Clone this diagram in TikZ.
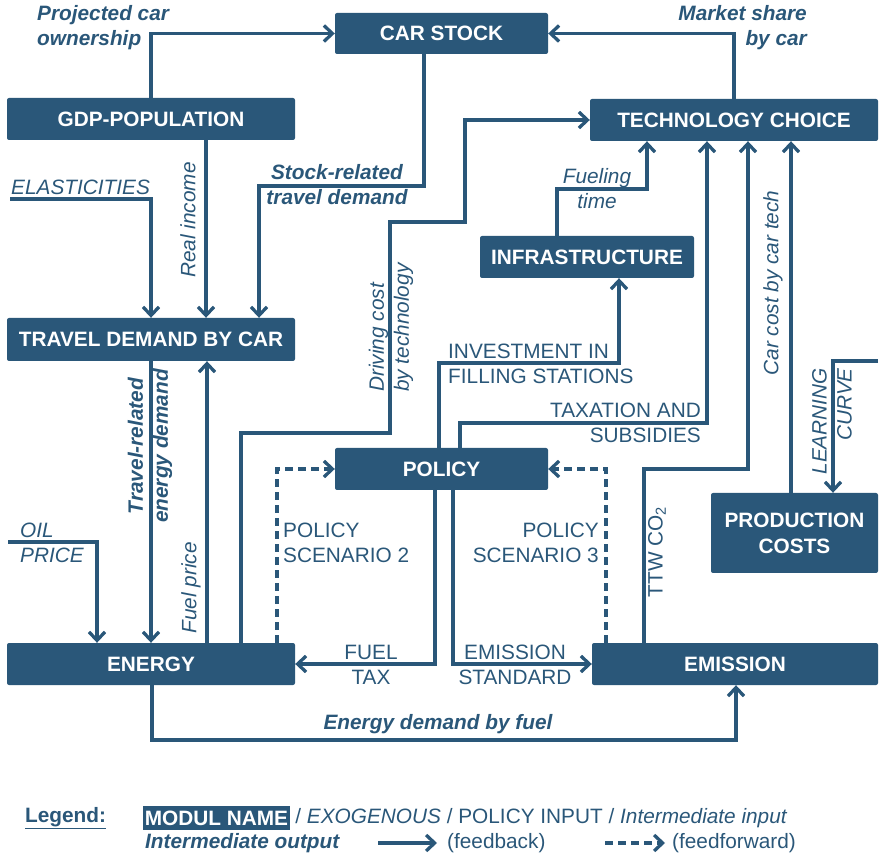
\documentclass[tikz,border=0pt]{standalone}
\usepackage{fontspec}
\setmainfont{Liberation Sans}
\usetikzlibrary{arrows.meta}
\definecolor{navy}{HTML}{2A5779}
\begin{document}
\begin{tikzpicture}[x=1pt,y=-1pt,
  every node/.style={font=\fontsize{20.8}{25}\selectfont, text=navy, inner sep=0pt},
  module/.style={fill=navy, text=white, font=\fontsize{20.8}{26}\selectfont\bfseries,
                 rounded corners=2pt, align=center},
  fb/.style={draw=navy, line width=3.3pt, -{Straight Barb[length=8.5pt,width=16pt]}},
  ff/.style={fb, dash pattern=on 8pt off 5pt},
  ital/.style={font=\fontsize{20.8}{25}\selectfont\itshape},
  boldit/.style={font=\fontsize{20.8}{25}\selectfont\bfseries\itshape},
]
\useasboundingbox (0,0) rectangle (879,858);

% ---------- modules ----------
\node[module, minimum width=213pt, minimum height=41pt] (car)   at (441.5,33.5) {CAR STOCK};
\node[module, minimum width=288pt, minimum height=42pt] (gdp)   at (151,119)    {GDP-POPULATION};
\node[module, minimum width=288pt, minimum height=42pt] (tc)    at (734,120)    {TECHNOLOGY CHOICE};
\node[module, minimum width=214pt, minimum height=42pt] (infra) at (587,257)    {INFRASTRUCTURE};
\node[module, minimum width=288pt, minimum height=43pt] (td)    at (151,339.5)  {TRAVEL DEMAND BY CAR};
\node[module, minimum width=213pt, minimum height=42pt] (pol)   at (441.5,469)  {POLICY};
\node[module, minimum width=167pt, minimum height=80pt] (pc)    at (794.5,533)  {PRODUCTION\\COSTS};
\node[module, minimum width=288pt, minimum height=42pt] (en)    at (151,664)    {ENERGY};
\node[module, minimum width=286pt, minimum height=42pt] (em)    at (735,664)    {EMISSION};

% ---------- exogenous inputs ----------
\coordinate (elas) at (10,199);
\coordinate (oil)  at (8,542);
\coordinate (lc)   at (878,361);

% ---------- connectors ----------
\draw[fb] (gdp.north -| 151,0) |- (car.west);
\draw[fb] (car.south -| 424,0) -- (424,186) -| (td.north -| 259,0);
\draw[fb] (tc.north -| 734,0) |- (car.east);
\draw[fb] (gdp.south -| 206,0) -- (td.north -| 206,0);
\draw[fb] (elas) -| (td.north -| 151,0);
\draw[fb] (td.south -| 151,0) -- (en.north -| 151,0);
\draw[fb] (en.north -| 207,0) -- (td.south -| 207,0);
\draw[fb] (en.north -| 241,0) -- (241,433) -- (390,433) -- (390,222) -- (465,222) |- (tc.west);
\draw[fb] (pol.south -| 435,0) |- (en.east);
\draw[fb] (pol.south -| 453,0) |- (em.west);
\draw[ff] (en.north -| 277,0) |- (pol.west);
\draw[ff] (em.north -| 606,0) |- (pol.east);
\draw[fb] (pol.north -| 439,0) |- (619,363) -- (infra.south -| 619,0);
\draw[fb] (pol.north -| 460,0) |- (707,423) -- (tc.south -| 707,0);
\draw[fb] (infra.north -| 557,0) |- (647,189) -- (tc.south -| 647,0);
\draw[fb] (em.north -| 644,0) |- (748,469) -- (tc.south -| 748,0);
\draw[fb] (pc.north -| 791,0) -- (tc.south -| 791,0);
\draw[fb] (lc) -| (pc.north -| 833,0);
\draw[fb] (oil) -| (en.north -| 97,0);
\draw[fb] (en.south -| 152,0) |- (736,740) -- (em.south -| 736,0);

% ---------- labels ----------
\node[boldit, align=left, anchor=west] (l1) at (37,28) {Projected car\\ownership};
\node[boldit, align=center] (l2) at (337,185) {Stock-related\\travel demand};
\node[boldit, align=right, anchor=east] (l3) at (807,28) {Market share\\by car};
\node[ital, rotate=90] (l4) at (188,220) {Real income};
\node[ital, anchor=west] (l5) at (11,187) {ELASTICITIES};
\node[boldit, rotate=90, align=center] (l6) at (150,446) {Travel-related\\energy demand};
\node[ital, rotate=90] (l7) at (191,588) {Fuel price};
\node[ital, rotate=90, align=left, anchor=west] (l8) at (391,392) {Driving cost\\by technology};
\node[align=center] (l9) at (371,665) {FUEL\\TAX};
\node[align=center] (l10) at (515,665) {EMISSION\\STANDARD};
\node[align=left, anchor=west] (l11) at (283,543) {POLICY\\SCENARIO 2};
\node[align=right, anchor=east] (l12) at (599,543) {POLICY\\SCENARIO 3};
\node[align=left, anchor=west] (l13) at (448,364) {INVESTMENT IN\\FILLING STATIONS};
\node[align=right, anchor=east] (l14) at (701,423) {TAXATION AND\\SUBSIDIES};
\node[ital, align=center] (l15) at (597,189) {Fueling\\time};
\node[rotate=90] (l16) at (657,552) {TTW CO\textsubscript{2}};
\node[ital, rotate=90] (l17) at (773,283) {Car cost by car tech};
\node[ital, rotate=90, align=right, anchor=east] (l18) at (832,368) {LEARNING\\CURVE};
\node[ital, align=left, anchor=west] (l19) at (20,543) {OIL\\PRICE};
\node[boldit] (l20) at (438,724) {Energy demand by fuel};

% ---------- legend ----------
\node[font=\fontsize{20.8}{25}\selectfont\bfseries, anchor=west] (leg) at (25,818) {\underline{Legend:}};
\node[fill=navy, text=white, font=\fontsize{20.8}{25}\selectfont\bfseries,
      minimum width=147pt, minimum height=24pt] (lm) at (216.5,818) {MODUL NAME};
\node[anchor=west, xshift=5pt] (lrest) at (lm.east)
  {/ \textit{EXOGENOUS} / POLICY INPUT / \textit{Intermediate input}};
\node[boldit, anchor=west] (lout) at (145,843) {Intermediate output};
\coordinate (fa) at (378,843);
\coordinate (fbend) at (437,843);
\draw[fb] (fa) -- (fbend);
\node[anchor=west] (lfb) at (447,843) {(feedback)};
\coordinate (ga) at (605,843);
\coordinate (gb) at (665,843);
\draw[ff] (ga) -- (gb);
\node[anchor=west] (lff) at (672,843) {(feedforward)};
\end{tikzpicture}
\end{document}
